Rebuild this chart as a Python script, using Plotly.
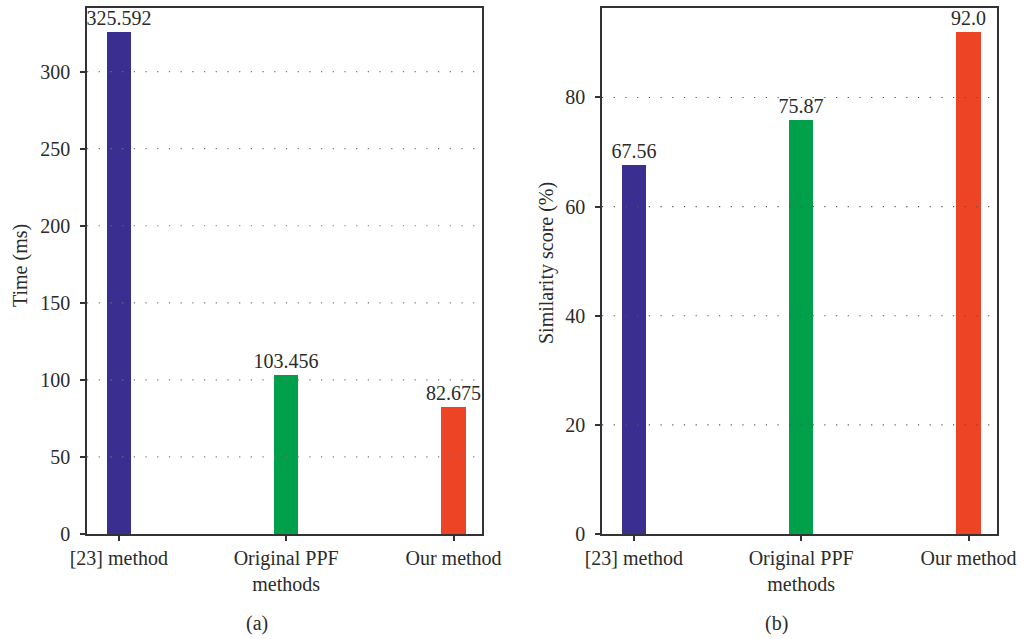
import plotly.graph_objects as go
from plotly.subplots import make_subplots

# Data
methods = ["[23] method", "Original PPF<br>methods", "Our method"]
time_ms = [325.592, 103.456, 82.675]
time_labels = ["325.592", "103.456", "82.675"]
similarity = [67.56, 75.87, 92.0]
similarity_labels = ["67.56", "75.87", "92.0"]
bar_colors = ["#3a2f91", "#009f4a", "#ee4426"]

time_ticks = [0, 50, 100, 150, 200, 250, 300]
sim_ticks = [0, 20, 40, 60, 80]

FONT = "Liberation Serif"
FS = 20
TXT = "#2b2b2b"

W, H = 1025, 639
ML, MR, MT, MB = 87, 28, 6, 105
pw = W - ML - MR
ph = H - MT - MB

fig = make_subplots(rows=1, cols=2, horizontal_spacing=0.0)

fig.add_trace(go.Bar(
    x=methods, y=time_ms, text=time_labels, textposition="outside",
    constraintext="none",
    marker=dict(color=bar_colors, line=dict(width=0)), width=0.145,
    cliponaxis=False, textfont=dict(family=FONT, size=FS, color=TXT),
), row=1, col=1)

fig.add_trace(go.Bar(
    x=methods, y=similarity, text=similarity_labels, textposition="outside",
    constraintext="none",
    marker=dict(color=bar_colors, line=dict(width=0)), width=0.145,
    cliponaxis=False, textfont=dict(family=FONT, size=FS, color=TXT),
), row=1, col=2)

left_dom = [0.0, (482 - ML) / pw]
right_dom = [(602 - ML) / pw, 1.0]

axis_common = dict(
    showline=True, linecolor="#333333", linewidth=1.5, mirror=True,
    ticks="outside", ticklen=5, tickcolor="#333333", tickwidth=1.5,
    tickfont=dict(family=FONT, size=FS, color=TXT), showgrid=False,
    zeroline=False,
)

fig.update_xaxes(**axis_common, domain=left_dom, range=[-0.19, 2.17], row=1, col=1)
fig.update_xaxes(**axis_common, domain=right_dom, range=[-0.19, 2.17], row=1, col=2)
fig.update_yaxes(**axis_common, range=[0, 341.3], tickvals=time_ticks,
                 ticklabelstandoff=6, row=1, col=1)
fig.update_yaxes(**axis_common, range=[0, 96.4], tickvals=sim_ticks,
                 ticklabelstandoff=6, row=1, col=2)

# Dotted horizontal grid drawn on top of the bars
for v in time_ticks[1:]:
    fig.add_shape(type="line", xref="x domain", yref="y", x0=0, x1=1, y0=v, y1=v,
                  line=dict(color="#777777", width=1.2, dash="1.2px,10.5px"),
                  layer="above")
for v in sim_ticks[1:]:
    fig.add_shape(type="line", xref="x2 domain", yref="y2", x0=0, x1=1, y0=v, y1=v,
                  line=dict(color="#555555", width=1.2, dash="1.2px,10.5px"),
                  layer="above")

def px_x(x):
    return (x - ML) / pw

def px_y(y):
    return (H - MB - y) / ph

annotations = [
    dict(text="Time (ms)", x=px_x(20), y=px_y(265), textangle=-90),
    dict(text="Similarity score (%)", x=px_x(546), y=px_y(262), textangle=-90),
    dict(text="(a)", x=px_x(257), y=px_y(624)),
    dict(text="(b)", x=px_x(776), y=px_y(624)),
]
for a in annotations:
    fig.add_annotation(xref="paper", yref="paper", showarrow=False,
                       xanchor="center", yanchor="middle",
                       font=dict(family=FONT, size=FS, color=TXT), **a)

fig.update_layout(
    width=W, height=H,
    margin=dict(l=ML, r=MR, t=MT, b=MB),
    paper_bgcolor="white", plot_bgcolor="white",
    showlegend=False, bargap=0,
    font=dict(family=FONT, size=FS, color=TXT),
)

fig.write_html("out.html")
